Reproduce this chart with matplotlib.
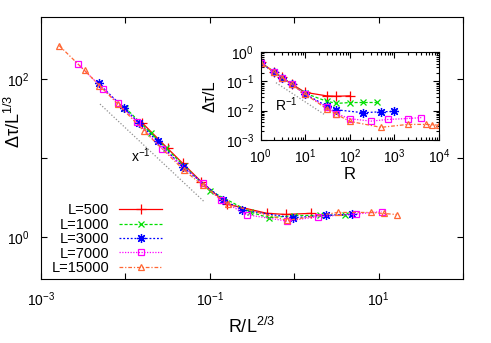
import numpy as np
import matplotlib
matplotlib.use("Agg")
import matplotlib.pyplot as plt
from matplotlib.ticker import NullFormatter, LogFormatterSciNotation, LogLocator

plt.rcParams['font.family'] = ['Liberation Sans', 'DejaVu Sans']
plt.rcParams['mathtext.fontset'] = 'custom'
plt.rcParams['mathtext.rm'] = 'Liberation Sans'
plt.rcParams['mathtext.it'] = 'Liberation Sans'

# system sizes
sizes = [500, 1000, 3000, 7000, 15000]
labels = ["L=500", "L=1000", "L=3000", "L=7000", "L=15000"]

# R values and delta tau / L for each size
R_500 = [1, 2, 3, 5, 10, 30, 50, 100]
dt_500 = [0.44, 0.21, 0.137, 0.080, 0.042, 0.032, 0.031, 0.032]

R_1000 = [1, 2, 3, 5, 10, 30, 50, 100, 200, 400]
dt_1000 = [0.43, 0.207, 0.135, 0.079, 0.039, 0.021, 0.0177, 0.0189, 0.019, 0.019]

R_3000 = [1, 2, 3, 5, 10, 30, 50, 200, 500, 1000]
dt_3000 = [0.42, 0.205, 0.135, 0.078, 0.037, 0.0144, 0.0107, 0.0085, 0.0092, 0.0094]

R_7000 = [1, 2, 3, 5, 10, 30, 50, 100, 300, 700, 2000, 4000]
dt_7000 = [0.42, 0.203, 0.135, 0.078, 0.036, 0.0133, 0.0080, 0.0053, 0.0044, 0.0050, 0.0054, 0.0058]

R_15000 = [1, 2, 3, 5, 10, 30, 50, 100, 500, 2000, 5000, 7000, 10000]
dt_15000 = [0.43, 0.209, 0.135, 0.078, 0.0365, 0.0116, 0.0075, 0.0043, 0.0027, 0.0034, 0.0034, 0.0033, 0.0032]

R_all = [R_500, R_1000, R_3000, R_7000, R_15000]
dt_all = [dt_500, dt_1000, dt_3000, dt_7000, dt_15000]

# guide lines
guide_main_x = [0.005, 0.085]
guide_main_y = [48.0, 2.85]
guide_in_x = [2.2, 28]
guide_in_y = [0.09, 0.0071]

colors = ['#ff0000', '#00e000', '#0000ff', '#ff00ff', '#ff6633']
markers = ['+', 'x', (8, 2, 0), 's', '^']
msizes = [6.5, 5, 6.5, 5, 5]
styles = ['-', (0, (2.5, 1.5)), (0, (1.5, 1.5)), (0, (1, 1.2)), (0, (3, 1.5, 1, 1.5))]

fig = plt.figure(figsize=(4.91, 3.43), dpi=100)
ax = fig.add_axes([41/491, 1-279/343, 422/491, 262/343])

for i, L in enumerate(sizes):
    R = np.array(R_all[i], dtype=float)
    dt = np.array(dt_all[i])
    x = R / L**(2/3)
    y = dt * L**(2/3)
    ax.plot(x, y, color=colors[i], ls=styles[i], lw=0.9, marker=markers[i],
            ms=msizes[i], mfc='none', mew=0.9, label=labels[i])

ax.plot(guide_main_x, guide_main_y, color='#909090', ls=(0, (1, 1.5)), lw=0.9)
ax.text(0.0115, 9.0, r'x$^{-1}$', fontsize=10)

ax.set_xscale('log')
ax.set_yscale('log')
ax.set_xlim(1e-3, 1e2)
ax.set_ylim(0.3, 600)
ax.set_xticks([1e-3, 1e-1, 1e1])
ax.set_xticks([1e-2, 1e0, 1e2], minor=True)
ax.set_yticks([1e0, 1e2])
ax.set_yticks([1e1], minor=True)
ax.xaxis.set_major_formatter(LogFormatterSciNotation())
ax.yaxis.set_major_formatter(LogFormatterSciNotation())
ax.xaxis.set_minor_formatter(NullFormatter())
ax.yaxis.set_minor_formatter(NullFormatter())
ax.tick_params(which='both', direction='in', top=True, right=True, labelsize=10, width=0.8)
ax.tick_params(which='major', length=4, pad=8)
ax.tick_params(which='minor', length=4)
ax.set_xlabel('R/L$^{2/3}$', fontsize=13, labelpad=6)
ax.set_ylabel('Δτ/L$^{1/3}$', fontsize=13)
ax.yaxis.set_label_coords(-0.04, 0.6)

ax.legend(loc='lower right', bbox_to_anchor=(161.7/491, 1-275/343),
          bbox_transform=fig.transFigure, frameon=False, markerfirst=False,
          fontsize=10.5, handlelength=2.9, handletextpad=0.7, labelspacing=0.03,
          borderpad=0, borderaxespad=0)

# inset
ins = fig.add_axes([260.7/491, 1-140/343, 178.3/491, 88/343])
for i, L in enumerate(sizes):
    ins.plot(R_all[i], dt_all[i], color=colors[i], ls=styles[i], lw=0.9, marker=markers[i],
             ms=msizes[i], mfc='none', mew=0.9)
ins.plot(guide_in_x, guide_in_y, color='#909090', ls=(0, (1, 1.5)), lw=0.9)
ins.text(2.1, 0.0098, r'R$^{-1}$', fontsize=10)
ins.set_xscale('log')
ins.set_yscale('log')
ins.set_xlim(1, 1e4)
ins.set_ylim(1e-3, 1)
ins.xaxis.set_major_locator(LogLocator(base=10, numticks=20))
ins.yaxis.set_major_locator(LogLocator(base=10, numticks=20))
ins.xaxis.set_minor_locator(LogLocator(base=10, subs=np.arange(2, 10), numticks=20))
ins.yaxis.set_minor_locator(LogLocator(base=10, subs=np.arange(2, 10), numticks=20))
ins.xaxis.set_major_formatter(LogFormatterSciNotation())
ins.yaxis.set_major_formatter(LogFormatterSciNotation())
ins.xaxis.set_minor_formatter(NullFormatter())
ins.yaxis.set_minor_formatter(NullFormatter())
ins.tick_params(which='both', direction='in', top=True, right=True, labelsize=10, width=0.8)
ins.tick_params(which='major', length=4, pad=5)
ins.tick_params(which='minor', length=2)
ins.set_xlabel('R', fontsize=12, labelpad=1)
ins.set_ylabel('Δτ/L', fontsize=12)
ins.yaxis.set_label_coords(-0.245, 0.5)

fig.savefig('out.png', dpi=100)
